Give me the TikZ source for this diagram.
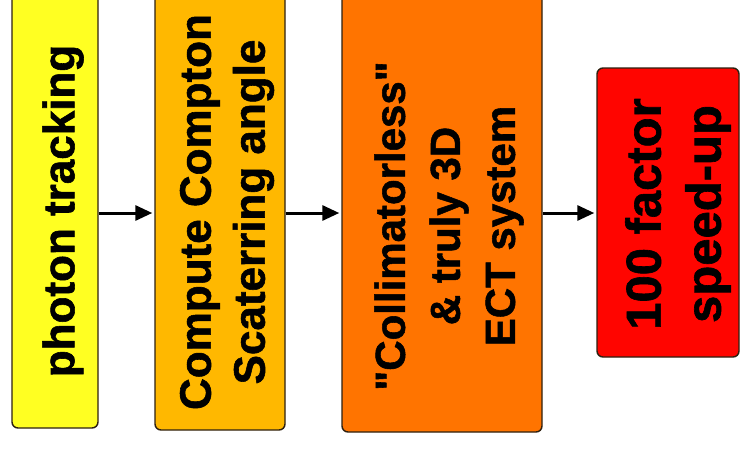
\documentclass[tikz,border=0pt]{standalone}
\usepackage{fontspec}
\setmainfont{Liberation Sans}[Ligatures=TeXOff, BoldFeatures={FakeBold=1.3}]
\usetikzlibrary{arrows.meta}
\definecolor{cyellow}{HTML}{FFFF22}
\definecolor{camber}{HTML}{FFB800}
\definecolor{corange}{HTML}{FF7400}
\definecolor{cred}{HTML}{FF0500}
\definecolor{cedge}{HTML}{2E2010}
\tikzset{
  boxshape/.style={draw=cedge, line width=1.4pt, rounded corners=6pt, inner sep=0pt},
  lbl/.style={rotate=90, align=center, inner sep=0pt, font=\bfseries},
  arr/.style={line width=3pt, -{Triangle[length=17pt,width=15pt]}, shorten >=2pt}
}
\begin{document}
\begin{tikzpicture}[x=1pt,y=-1pt]
\clip (0,0) rectangle (740,448);
\fill[white] (0,0) rectangle (740,448);
% boxes
\node[boxshape, fill=cyellow, minimum width=86pt, minimum height=448pt] (b1) at (55,204) {};
\node[boxshape, fill=camber, minimum width=130pt, minimum height=450pt] (b2) at (220,205) {};
\node[boxshape, fill=corange, minimum width=200pt, minimum height=452pt] (b3) at (442,206) {};
\node[boxshape, fill=cred, minimum width=142pt, minimum height=289pt] (b4) at (668,212.5) {};
% labels
\node[lbl, font=\fontsize{44}{54}\selectfont\bfseries] (t1) at (63,211) {photon tracking};
\node[lbl, font=\fontsize{44}{54}\selectfont\bfseries] (t2) at (227,212) {Compute Compton\\Scaterring angle};
\node[lbl, font=\fontsize{42}{55}\selectfont\bfseries] (t3) at (449,226) {"Collimatorless"\\\& truly 3D\\ECT system};
\node[lbl, font=\fontsize{49}{60}\selectfont\bfseries] (t4) at (678,214) {100 factor\\speed-up};
% arrows
\coordinate (a) at (0,213);
\draw[arr] (b1.east |- a) -- (b2.west |- a);
\draw[arr] (b2.east |- a) -- (b3.west |- a);
\draw[arr] (b3.east |- a) -- (b4.west |- a);
\end{tikzpicture}
\end{document}
